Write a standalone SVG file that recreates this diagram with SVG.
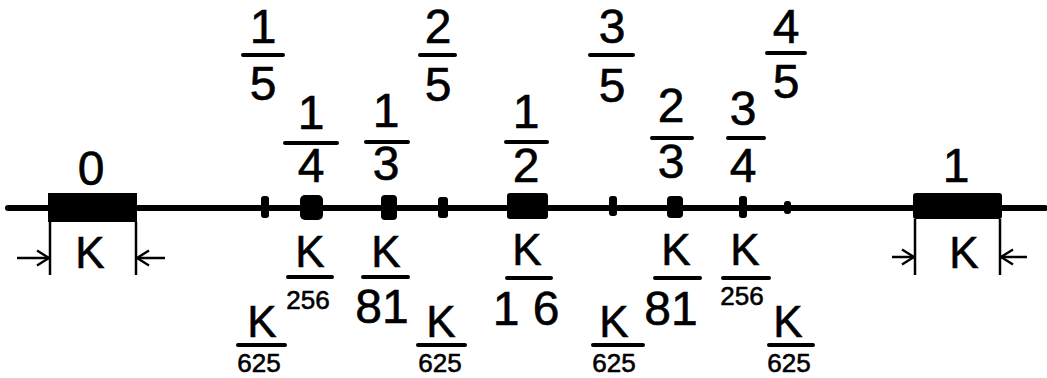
<svg xmlns="http://www.w3.org/2000/svg" width="1047" height="378" viewBox="0 0 1047 378">
<defs>
<style>
text{font-family:"Liberation Sans","DejaVu Sans",sans-serif;fill:#000;stroke:#000;stroke-width:0.6;text-anchor:middle}
.d{font-size:48px}
.k{font-size:44px}
.s{font-size:26px}
.p{font-size:48px}
.bar{stroke:#000;stroke-width:4;stroke-linecap:round}
.dim{stroke:#000;stroke-width:2.5;fill:none}
.tick{fill:#000}
</style>
<marker id="ah" viewBox="0 0 14 18" refX="13" refY="9" markerWidth="14" markerHeight="18" markerUnits="userSpaceOnUse" orient="auto">
<path d="M1,1.5 L13,9 L1,16.5" fill="none" stroke="#000" stroke-width="2.4"/>
</marker>
</defs>
<rect width="1047" height="378" fill="#fff"/>
<g id="axis">
<line x1="8" y1="208" x2="1045" y2="208" stroke="#000" stroke-width="6" stroke-linecap="round"/>
</g>
<g id="point-0">
<rect x="48" y="193" width="89" height="29" class="tick"/>
<text class="p" x="91" y="185">0</text>
</g>
<g id="point-1">
<rect x="913" y="193" width="89" height="26" rx="3" class="tick"/>
<text class="p" x="956" y="182">1</text>
</g>
<g id="ticks">
<rect x="261" y="196" width="8" height="22" rx="3" class="tick"/>
<rect x="300" y="195" width="23" height="25" rx="5" class="tick"/>
<rect x="381" y="195" width="16" height="25" rx="4" class="tick"/>
<rect x="438" y="197" width="10" height="21" rx="3" class="tick"/>
<rect x="507" y="193" width="41" height="26" rx="3" class="tick"/>
<rect x="609" y="196" width="8" height="20" rx="3" class="tick"/>
<rect x="667" y="196" width="16" height="22" rx="4" class="tick"/>
<rect x="739" y="196" width="8" height="22" rx="3" class="tick"/>
<rect x="784" y="201" width="7" height="13" rx="3" class="tick"/>
</g>
<g id="f-1-5"><text class="d" x="263" y="43">1</text><line class="bar" x1="243" y1="55" x2="283" y2="55"/><text class="d" x="263" y="100">5</text></g>
<g id="f-2-5"><text class="d" x="438" y="43">2</text><line class="bar" x1="420" y1="55" x2="455" y2="55"/><text class="d" x="438" y="101">5</text></g>
<g id="f-3-5"><text class="d" x="612" y="43">3</text><line class="bar" x1="590" y1="55" x2="633" y2="55"/><text class="d" x="612" y="102">5</text></g>
<g id="f-4-5"><text class="d" x="786" y="43">4</text><line class="bar" x1="767" y1="53" x2="805" y2="53"/><text class="d" x="786" y="98">5</text></g>
<g id="f-1-4"><text class="d" x="311" y="129">1</text><line class="bar" x1="285" y1="143" x2="337" y2="143"/><text class="d" x="311" y="182">4</text></g>
<g id="f-1-3"><text class="d" x="386" y="127">1</text><line class="bar" x1="366" y1="142" x2="408" y2="142"/><text class="d" x="386" y="180">3</text></g>
<g id="f-1-2"><text class="d" x="526" y="128">1</text><line class="bar" x1="506" y1="142" x2="547" y2="142"/><text class="d" x="526" y="182">2</text></g>
<g id="f-2-3"><text class="d" x="671" y="122">2</text><line class="bar" x1="652" y1="138" x2="692" y2="138"/><text class="d" x="671" y="178">3</text></g>
<g id="f-3-4"><text class="d" x="743" y="125">3</text><line class="bar" x1="728" y1="138" x2="764" y2="138"/><text class="d" x="743" y="182">4</text></g>
<g id="k-256-l"><text class="k" x="310" y="267">K</text><line class="bar" x1="288" y1="277" x2="332" y2="277"/><text class="s" x="308" y="309">256</text></g>
<g id="k-81-l"><text class="k" x="386" y="267">K</text><line class="bar" x1="363" y1="277" x2="408" y2="277"/><text class="d" x="382" y="323">81</text></g>
<g id="k-625-a"><text class="k" x="262" y="337">K</text><line class="bar" x1="238" y1="345" x2="285" y2="345"/><text class="s" x="259" y="372">625</text></g>
<g id="k-625-b"><text class="k" x="441" y="337">K</text><line class="bar" x1="418" y1="345" x2="465" y2="345"/><text class="s" x="440" y="372">625</text></g>
<g id="k-16"><text class="k" x="527" y="265">K</text><line class="bar" x1="507" y1="278" x2="551" y2="278"/><text class="d" x="526" y="325">1 6</text></g>
<g id="k-625-c"><text class="k" x="614" y="337">K</text><line class="bar" x1="593" y1="345" x2="643" y2="345"/><text class="s" x="614" y="372">625</text></g>
<g id="k-81-r"><text class="k" x="676" y="265">K</text><line class="bar" x1="655" y1="278" x2="700" y2="278"/><text class="d" x="671" y="325">81</text></g>
<g id="k-256-r"><text class="k" x="745" y="265">K</text><line class="bar" x1="723" y1="278" x2="769" y2="278"/><text class="s" x="742" y="305">256</text></g>
<g id="k-625-d"><text class="k" x="788" y="337">K</text><line class="bar" x1="769" y1="345" x2="813" y2="345"/><text class="s" x="789" y="372">625</text></g>
<g id="dim-0"><text class="k" x="90" y="268">K</text></g>
<g id="dim-1"><text class="k" x="964" y="268">K</text></g>
<g id="connectors">
<line class="dim" x1="50" y1="222" x2="50" y2="275"/>
<line class="dim" x1="136" y1="222" x2="136" y2="275"/>
<line class="dim" x1="17" y1="258" x2="49" y2="258" marker-end="url(#ah)"/>
<line class="dim" x1="165" y1="258" x2="137" y2="258" marker-end="url(#ah)"/>
<line class="dim" x1="915" y1="219" x2="915" y2="275"/>
<line class="dim" x1="1000" y1="219" x2="1000" y2="275"/>
<line class="dim" x1="892" y1="257" x2="914" y2="257" marker-end="url(#ah)"/>
<line class="dim" x1="1027" y1="257" x2="1001" y2="257" marker-end="url(#ah)"/>
</g>
</svg>
